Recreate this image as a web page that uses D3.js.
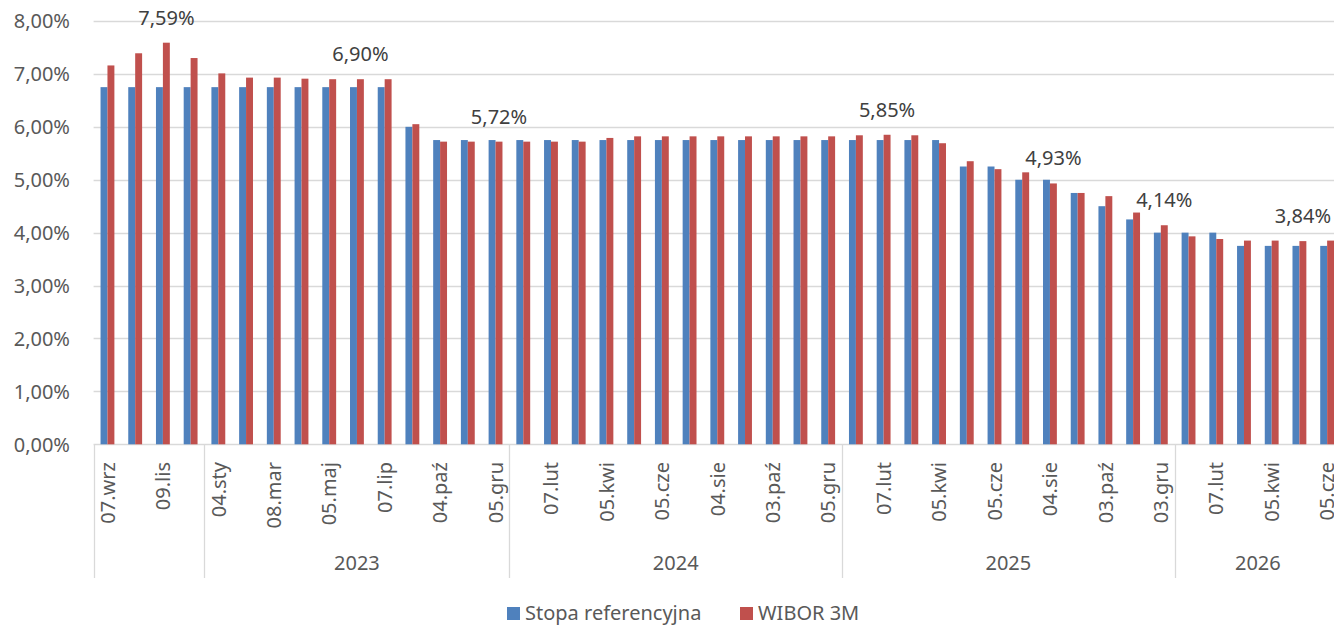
<!DOCTYPE html>
<html>
<head>
<meta charset="utf-8">
<script src="https://cdn.jsdelivr.net/npm/d3@7"></script>
<style>
  body { margin: 0; background: #fff; }
  text { font-family: "Noto Sans", sans-serif; }
</style>
</head>
<body>
<script>
var width = 1334;
var height = 625;

// categories (dates of meetings), one per pair of bars
var categories = [
  "07.wrz", "05.paź", "09.lis", "07.gru",
  "04.sty", "08.lut", "08.mar", "05.kwi", "05.maj", "07.cze", "07.lip", "06.wrz", "04.paź", "08.lis", "05.gru",
  "03.sty", "07.lut", "06.mar", "05.kwi", "08.maj", "05.cze", "03.lip", "04.sie", "04.wrz", "03.paź", "06.lis", "05.gru",
  "08.sty", "07.lut", "12.mar", "05.kwi", "07.maj", "05.cze", "02.lip", "04.sie", "03.wrz", "03.paź", "05.lis", "03.gru",
  "14.sty", "07.lut", "04.mar", "05.kwi", "06.maj", "05.cze"
];

// years on the second level of the axis
var yearLabels = ["", "2023", "2024", "2025", "2026"];
var yearCounts = [4, 11, 12, 12, 6];

var stopaRef = [
  6.75, 6.75, 6.75, 6.75,
  6.75, 6.75, 6.75, 6.75, 6.75, 6.75, 6.75, 6.00, 5.75, 5.75, 5.75,
  5.75, 5.75, 5.75, 5.75, 5.75, 5.75, 5.75, 5.75, 5.75, 5.75, 5.75, 5.75,
  5.75, 5.75, 5.75, 5.75, 5.25, 5.25, 5.00, 5.00, 4.75, 4.50, 4.25, 4.00,
  4.00, 4.00, 3.75, 3.75, 3.75, 3.75
];

var wibor3m = [
  7.16, 7.39, 7.59, 7.30,
  7.01, 6.93, 6.93, 6.91, 6.90, 6.90, 6.90, 6.05, 5.72, 5.72, 5.72,
  5.72, 5.72, 5.72, 5.79, 5.82, 5.82, 5.82, 5.82, 5.82, 5.82, 5.82, 5.82,
  5.84, 5.85, 5.84, 5.69, 5.35, 5.20, 5.14, 4.93, 4.75, 4.69, 4.38, 4.14,
  3.93, 3.88, 3.85, 3.85, 3.84, 3.85
];

// which WIBOR bars get a value label
var labelIdx = [2, 9, 14, 28, 34, 38, 43];

var yTicks = [0, 1, 2, 3, 4, 5, 6, 7, 8];
var seriesNames = ["Stopa referencyjna", "WIBOR 3M"];
var colors = ["#4f81bd", "#c0504d"];

var pl = d3.formatLocale({decimal: ",", thousands: " ", grouping: [3], currency: ["", " zł"]});
var pct = function(v) { return pl.format(".2f")(v) + "%"; };

// note: "top" is taken by window.top, so plot edges get their own names
var plotL = 93.6, plotR = 1341, plotT = 21, plotB = 444.3;

var svg = d3.select("body").append("svg")
    .attr("width", width)
    .attr("height", height);

var x = d3.scaleBand()
    .domain(d3.range(categories.length))
    .range([plotL, plotR])
    .paddingInner(0.5)
    .paddingOuter(0.25);

var x1 = d3.scaleBand()
    .domain([0, 1])
    .range([0, x.bandwidth()]);

var y = d3.scaleLinear()
    .domain([0, 8])
    .range([plotB, plotT]);

// gridlines
svg.append("g").selectAll("line")
    .data(yTicks)
    .enter().append("line")
    .attr("x1", plotL).attr("x2", width)
    .attr("y1", function(d) { return Math.round(y(d)) + 0.5; })
    .attr("y2", function(d) { return Math.round(y(d)) + 0.5; })
    .style("stroke", "#d9d9d9")
    .style("stroke-width", 1.3);

// y axis labels
svg.append("g").selectAll("text")
    .data(yTicks)
    .enter().append("text")
    .attr("x", 70)
    .attr("y", function(d) { return y(d); })
    .attr("dy", "0.36em")
    .attr("text-anchor", "end")
    .style("font-size", "20px")
    .style("fill", "#595959")
    .text(pct);

// bars
var series = [stopaRef, wibor3m];
series.forEach(function(vals, s) {
  svg.append("g").selectAll("rect")
    .data(vals)
    .enter().append("rect")
    .attr("x", function(d, i) { return x(i) + x1(s); })
    .attr("y", function(d) { return y(d); })
    .attr("width", x1.bandwidth())
    .attr("height", function(d) { return y(0) - y(d); })
    .style("fill", colors[s]);
});

// value labels
svg.append("g").selectAll("text")
    .data(labelIdx)
    .enter().append("text")
    .attr("x", function(i) { return x(i) + x1(1) + x1.bandwidth() / 2; })
    .attr("y", function(i) { return y(wibor3m[i]) - 18; })
    .attr("text-anchor", "middle")
    .style("font-size", "20px")
    .style("fill", "#404040")
    .text(function(i) { return pct(wibor3m[i]); });

// category labels, every other one
svg.append("g").selectAll("text")
    .data(categories.map(function(c, i) { return i; }).filter(function(i) { return i % 2 == 0; }))
    .enter().append("text")
    .attr("transform", function(i) { return "translate(" + (x(i) + x.bandwidth() / 2) + ",462) rotate(-90)"; })
    .attr("text-anchor", "end")
    .attr("dy", "0.36em")
    .style("font-size", "20px")
    .style("fill", "#595959")
    .text(function(i) { return categories[i]; });

// year groups
var starts = [0];
yearCounts.forEach(function(c, k) { starts.push(starts[k] + c); });
var step = x.step();
var edgeX = function(i) { return plotL + step * i; };

svg.append("g").selectAll("line")
    .data(starts.slice(0, -1))
    .enter().append("line")
    .attr("x1", function(i) { return Math.round(edgeX(i)) + 0.5; })
    .attr("x2", function(i) { return Math.round(edgeX(i)) + 0.5; })
    .attr("y1", plotB)
    .attr("y2", 578)
    .style("stroke", "#d9d9d9")
    .style("stroke-width", 1.3);

svg.append("g").selectAll("text")
    .data(yearLabels)
    .enter().append("text")
    .attr("x", function(d, k) { return (edgeX(starts[k]) + edgeX(starts[k + 1])) / 2; })
    .attr("y", 570)
    .attr("text-anchor", "middle")
    .style("font-size", "20px")
    .style("fill", "#595959")
    .text(function(d) { return d; });

// legend
var legX = [507, 740];
var leg = svg.append("g").selectAll("g")
    .data(seriesNames)
    .enter().append("g")
    .attr("transform", function(d, i) { return "translate(" + legX[i] + ",607)"; });
leg.append("rect")
    .attr("width", 13).attr("height", 13)
    .style("fill", function(d, i) { return colors[i]; });
leg.append("text")
    .attr("x", 18)
    .attr("y", 13)
    .style("font-size", "20px")
    .style("fill", "#595959")
    .text(function(d) { return d; });
</script>
</body>
</html>
